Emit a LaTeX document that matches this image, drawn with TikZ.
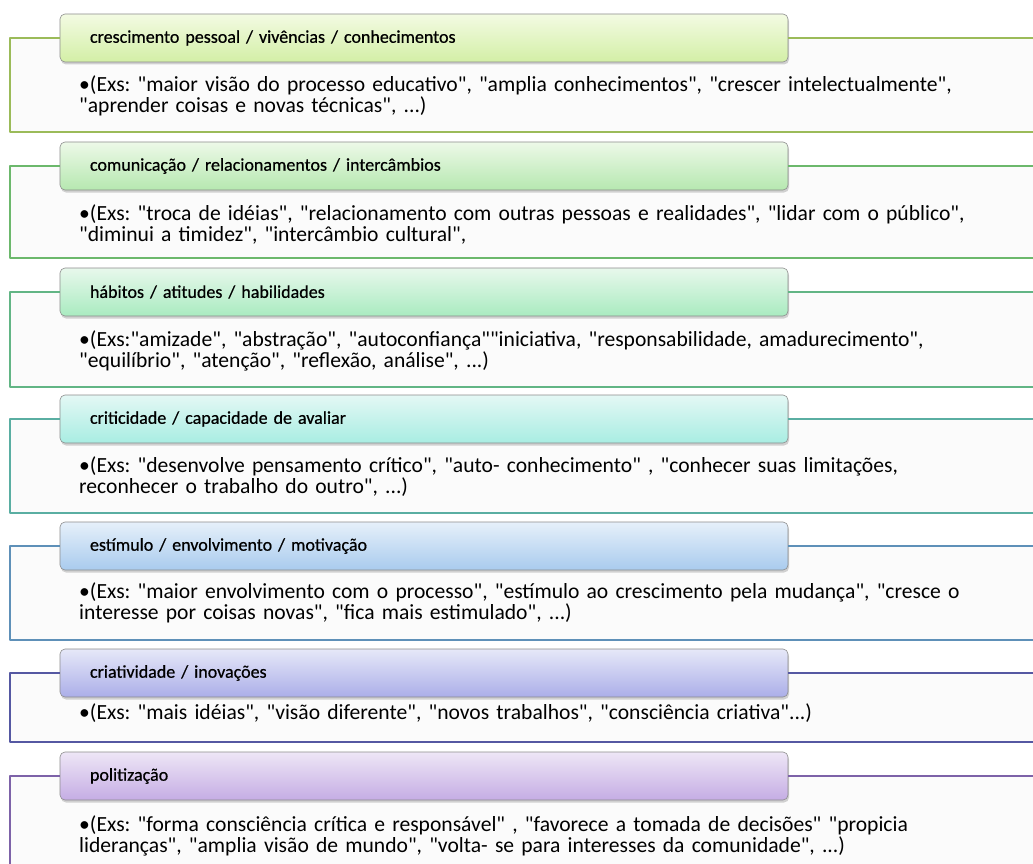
\documentclass[tikz,border=0pt]{standalone}
\usepackage{fontspec}
\setmainfont{Carlito}[Ligatures=TeXOff]
\newfontfamily\titulo{Carlito}[Ligatures=TeXOff, FakeBold=0.6]
\usetikzlibrary{shadows}
\definecolor{borda1}{HTML}{9BBB59}\definecolor{topo1}{HTML}{F3FBE3}\definecolor{base1}{HTML}{D3EFA6}
\definecolor{borda2}{HTML}{6CB86C}\definecolor{topo2}{HTML}{EDF9E8}\definecolor{base2}{HTML}{B6E8B0}
\definecolor{borda3}{HTML}{62B585}\definecolor{topo3}{HTML}{E8F8EC}\definecolor{base3}{HTML}{A9EBC0}
\definecolor{borda4}{HTML}{5AAEA2}\definecolor{topo4}{HTML}{E4F8F5}\definecolor{base4}{HTML}{A8EDE2}
\definecolor{borda5}{HTML}{5E90B8}\definecolor{topo5}{HTML}{E6F0FA}\definecolor{base5}{HTML}{A9CBEE}
\definecolor{borda6}{HTML}{5558A2}\definecolor{topo6}{HTML}{E6E8F8}\definecolor{base6}{HTML}{ABAEE8}
\definecolor{borda7}{HTML}{7D62A8}\definecolor{topo7}{HTML}{EEE6F6}\definecolor{base7}{HTML}{C5ADE4}
\begin{document}
\frenchspacing
\begin{tikzpicture}[x=1pt, y=-1pt, font=\fontsize{21.6}{20.5}\selectfont, line join=round,
  fundo/.style={fill=black!1.5},
  quadro/.style={draw=#1, line width=1.4pt},
  cabeca/.style={rounded corners=5pt, draw=black!45, line width=0.6pt, minimum width=728pt, minimum height=48pt,
    text width=668pt, inner xsep=30pt, align=left, font=\titulo\fontsize{18}{20}\selectfont,
    drop shadow={shadow xshift=1pt, shadow yshift=-2.5pt, opacity=.35}},
  texto/.style={anchor=north west, text width=980pt, align=left, inner sep=0pt}]
\useasboundingbox (0,0) rectangle (1033,864);
\clip (0,0) rectangle (1033,864);
% crescimento pessoal
\fill[fundo] (10,38) rectangle (1050,132);
\node[cabeca, top color=topo1, bottom color=base1] (cab1) at (424,38) {crescimento pessoal / vivências / conhecimentos};
\draw[quadro=borda1] (cab1.west) -| (10,132) -- (1050,132);
\draw[quadro=borda1] (cab1.east) -- (1050,38);
\node[texto] (txt1) at (79,76) {•(Exs: "maior visão do processo educativo", "amplia conhecimentos", "crescer intelectualmente",\\ "aprender coisas e novas técnicas", ...)};
% comunicacao
\fill[fundo] (10,166) rectangle (1050,258);
\node[cabeca, top color=topo2, bottom color=base2] (cab2) at (424,166) {comunicação / relacionamentos / intercâmbios};
\draw[quadro=borda2] (cab2.west) -| (10,258) -- (1050,258);
\draw[quadro=borda2] (cab2.east) -- (1050,166);
\node[texto] (txt2) at (79,205) {•(Exs: "troca de idéias", "relacionamento com outras pessoas e realidades", "lidar com o público",\\ "diminui a timidez", "intercâmbio cultural",};
% habitos
\fill[fundo] (10,292) rectangle (1050,387);
\node[cabeca, top color=topo3, bottom color=base3] (cab3) at (424,292) {hábitos / atitudes / habilidades};
\draw[quadro=borda3] (cab3.west) -| (10,387) -- (1050,387);
\draw[quadro=borda3] (cab3.east) -- (1050,292);
\node[texto] (txt3) at (79,331) {•(Exs:"amizade", "abstração", "autoconfiança""iniciativa, "responsabilidade, amadurecimento",\\ "equilíbrio", "atenção", "reflexão, análise", ...)};
% criticidade
\fill[fundo] (10,419) rectangle (1050,513);
\node[cabeca, top color=topo4, bottom color=base4] (cab4) at (424,419) {criticidade / capacidade de avaliar};
\draw[quadro=borda4] (cab4.west) -| (10,513) -- (1050,513);
\draw[quadro=borda4] (cab4.east) -- (1050,419);
\node[texto] (txt4) at (79,457) {•(Exs: "desenvolve pensamento crítico", "auto- conhecimento" , "conhecer suas limitações,\\ reconhecer o trabalho do outro", ...)};
% estimulo
\fill[fundo] (10,546) rectangle (1050,640);
\node[cabeca, top color=topo5, bottom color=base5] (cab5) at (424,546) {estímulo / envolvimento / motivação};
\draw[quadro=borda5] (cab5.west) -| (10,640) -- (1050,640);
\draw[quadro=borda5] (cab5.east) -- (1050,546);
\node[texto] (txt5) at (79,583) {•(Exs: "maior envolvimento com o processo", "estímulo ao crescimento pela mudança", "cresce o\\ interesse por coisas novas", "fica mais estimulado", ...)};
% criatividade
\fill[fundo] (10,673) rectangle (1050,742);
\node[cabeca, top color=topo6, bottom color=base6] (cab6) at (424,673) {criatividade / inovações};
\draw[quadro=borda6] (cab6.west) -| (10,742) -- (1050,742);
\draw[quadro=borda6] (cab6.east) -- (1050,673);
\node[texto] (txt6) at (79,703) {•(Exs: "mais idéias", "visão diferente", "novos trabalhos", "consciência criativa"...)};
% politizacao
\fill[fundo] (10,776) rectangle (1050,900);
\node[cabeca, top color=topo7, bottom color=base7] (cab7) at (424,776) {politização};
\draw[quadro=borda7] (cab7.west) -| (10,900);
\draw[quadro=borda7] (cab7.east) -- (1050,776);
\node[texto] (txt7) at (79,816) {•(Exs: "forma consciência crítica e responsável" , "favorece a tomada de decisões" "propicia\\ lideranças", "amplia visão de mundo", "volta- se para interesses da comunidade", ...)};
\end{tikzpicture}
\end{document}
